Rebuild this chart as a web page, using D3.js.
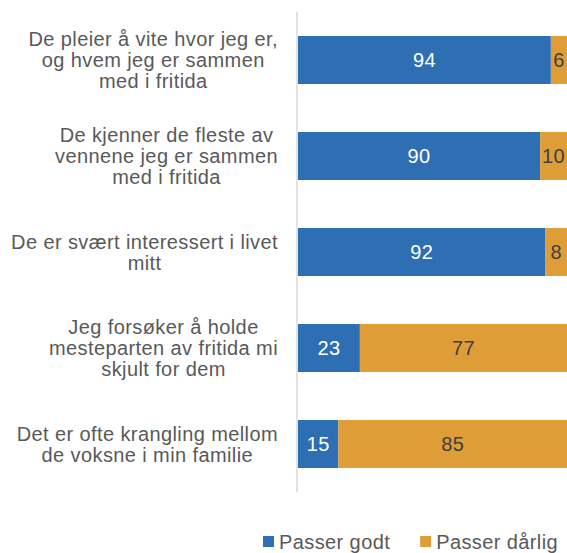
<!DOCTYPE html>
<html>
<head>
<meta charset="utf-8">
<script src="https://cdn.jsdelivr.net/npm/d3@7"></script>
<style>
  body { margin: 0; background: #fff; }
  text { font-family: "Liberation Sans", Arial, sans-serif; letter-spacing: 0.4px; }
</style>
</head>
<body>
<div id="chart"></div>
<script>
// Data
const categories = [
    ["De pleier å vite hvor jeg er,", "og hvem jeg er sammen", "med i fritida"],
    ["De kjenner de fleste av", "vennene jeg er sammen", "med i fritida"],
    ["De er svært interessert i livet", "mitt"],
    ["Jeg forsøker å holde", "mesteparten av fritida mi", "skjult for dem"],
    ["Det er ofte krangling mellom", "de voksne i min familie"]
];
const passerGodt = [94, 90, 92, 23, 15];
const passerDarlig = [6, 10, 8, 77, 85];
const seriesNames = ["Passer godt", "Passer dårlig"];
const colors = ["#2e6fb4", "#de9d37"];

const width = 567, height = 553;
const margin = {top: 12, right: 0, bottom: 61, left: 298};

const svg = d3.select("#chart").append("svg")
    .attr("width", width)
    .attr("height", height)
    .style("display", "block");

const x = d3.scaleLinear()
    .domain([0, 100])
    .range([margin.left, width - margin.right]);

const y = d3.scaleBand()
    .domain(d3.range(categories.length))
    .range([margin.top, height - margin.bottom])
    .paddingInner(0.5)
    .paddingOuter(0.25);

// Stack the two series
const rows = categories.map((c, i) => ({ i, godt: passerGodt[i], darlig: passerDarlig[i] }));
const stacked = d3.stack().keys(["godt", "darlig"])(rows);

const groups = svg.selectAll("g.series")
    .data(stacked)
    .join("g")
    .attr("class", "series")
    .attr("fill", (d, k) => colors[k]);

groups.selectAll("rect")
    .data(d => d)
    .join("rect")
    .attr("x", d => x(d[0]))
    .attr("y", d => y(d.data.i))
    .attr("width", d => x(d[1]) - x(d[0]))
    .attr("height", y.bandwidth());

// Value labels
stacked.forEach(function(s, k) {
    svg.append("g").selectAll("text")
        .data(s)
        .join("text")
        .attr("x", d => (x(d[0]) + x(d[1])) / 2)
        .attr("y", d => y(d.data.i) + y.bandwidth() / 2)
        .attr("dy", "0.35em")
        .attr("text-anchor", "middle")
        .attr("font-size", "20px")
        .attr("fill", k === 0 ? "#ffffff" : "#404040")
        .text(d => d[1] - d[0]);
});

// Axis line
svg.append("line")
    .attr("x1", x(0) - 1).attr("x2", x(0) - 1)
    .attr("y1", margin.top).attr("y2", height - margin.bottom)
    .attr("stroke", "#d9d9d9")
    .attr("stroke-width", 1.5);

// Category labels (centered block, right edge near axis)
const lineH = 21;
categories.forEach(function(lines, i) {
    const g = svg.append("g");
    const cy = y(i) + y.bandwidth() / 2;
    const t = g.append("text")
        .attr("text-anchor", "middle")
        .attr("font-size", "20px")
        .attr("fill", "#595959");
    lines.forEach(function(l, j) {
        t.append("tspan")
            .attr("x", 0)
            .attr("y", cy + (j - (lines.length - 1) / 2) * lineH)
            .attr("dy", "0.35em")
            .text(l);
    });
    const w = d3.max(t.selectAll("tspan").nodes(), n => n.getComputedTextLength());
    t.selectAll("tspan").attr("x", 278 - w / 2);
});

// Legend
const legend = svg.append("g");
let lx = 263;
seriesNames.forEach(function(name, k) {
    legend.append("rect")
        .attr("x", lx).attr("y", 536)
        .attr("width", 11).attr("height", 11)
        .attr("fill", colors[k]);
    const t = legend.append("text")
        .attr("x", lx + 16)
        .attr("y", 541.5)
        .attr("dy", "0.35em")
        .attr("font-size", "20px")
        .attr("fill", "#595959")
        .text(name);
    lx += 16 + t.node().getComputedTextLength() + 30;
});
</script>
</body>
</html>
